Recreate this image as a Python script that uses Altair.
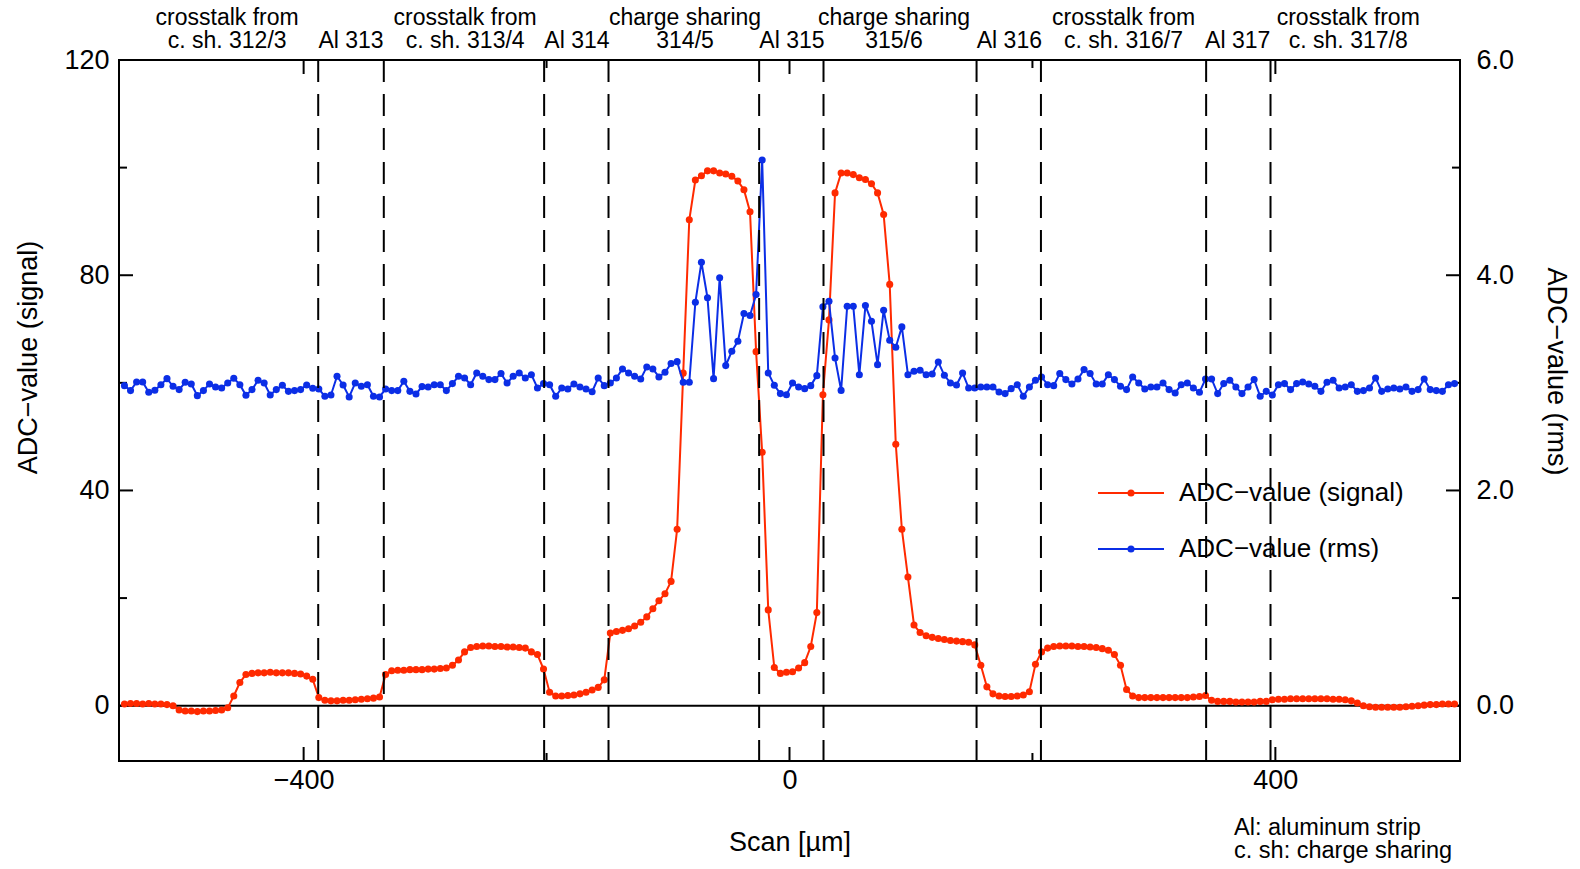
import altair as alt
import pandas as pd

# Scan grid: 220 positions, 5 µm apart
scan_start = -547.5
scan_step = 5.0

# ADC signal (left axis)
signal = [
    0.3, 0.4, 0.4, 0.3, 0.4, 0.3, 0.3, 0.2, 0.0,
    -0.8, -1.0, -1.0, -1.1, -1.0, -1.0, -0.9, -0.8,
    -0.4, 1.8, 4.3, 5.8, 6.0,
    6.1, 6.1, 6.2, 6.1, 6.1, 6.1, 6.0, 5.9,
    5.5, 4.9,
    1.5, 1.0, 0.9, 0.9, 1.0, 1.0, 1.1, 1.2, 1.3, 1.4, 1.6, 5.8,
    6.5, 6.6, 6.6, 6.7, 6.7, 6.7, 6.8, 6.8, 6.9, 7.0,
    7.5, 8.5, 10.0, 10.8, 11.0,
    11.1, 11.1, 11.0, 11.0, 10.9, 10.9, 10.8, 10.7,
    10.0, 9.5, 6.8, 2.5,
    1.8, 1.8, 1.9, 2.0, 2.2, 2.5, 2.9, 3.4, 4.8,
    13.5, 13.8, 14.0, 14.3, 14.8, 15.5, 16.5, 18.0, 19.5, 20.8, 23.1,
    32.8, 61.8, 90.3, 97.7, 98.5, 99.4, 99.4, 99.0, 98.8, 98.4, 97.5, 95.9,
    91.8, 65.8, 47.1, 17.8, 7.1, 6.0, 6.2,
    6.3, 7.0, 8.0, 11.0, 17.3,
    57.8, 71.7, 95.3, 99.0, 99.0, 98.7, 98.1, 97.8, 97.0, 95.3, 91.3, 78.3,
    48.6, 32.8, 23.9, 15.0, 13.6,
    13.0, 12.7, 12.5, 12.3, 12.1, 12.0, 11.9, 11.8, 11.3,
    7.5, 3.5, 2.2, 1.8, 1.7, 1.7, 1.8, 2.0, 2.6, 7.7, 10.0,
    10.7, 11.0, 11.1, 11.1, 11.1, 11.0, 11.0, 10.9, 10.8, 10.6, 10.3,
    9.5, 7.5, 3.0, 1.8,
    1.5, 1.5, 1.5, 1.5, 1.5, 1.5, 1.5, 1.5, 1.5, 1.6, 1.7, 1.9,
    1.0, 0.8, 0.8, 0.8, 0.7, 0.7, 0.7, 0.7, 0.8, 0.8,
    1.1, 1.2, 1.2, 1.3, 1.3, 1.3, 1.3, 1.3, 1.3, 1.3, 1.2, 1.2, 1.1, 0.9,
    0.5, 0.0, -0.2, -0.3, -0.3, -0.3, -0.3, -0.3,
    -0.2, -0.1, 0.0, 0.1, 0.2, 0.2, 0.3, 0.3, 0.3,
]

# ADC noise (right axis)
rms = [
    2.974, 2.928, 3.008, 3.008, 2.912, 2.931, 2.983, 3.039, 2.968, 2.937,
    3.005, 2.990, 2.881, 2.928, 2.990, 2.962, 2.952, 2.999, 3.042, 2.983,
    2.884, 2.937, 3.024, 2.999, 2.887, 2.937, 2.977, 2.921, 2.928, 2.937,
    2.980, 2.949, 2.943, 2.875, 2.887, 3.061, 2.980, 2.869, 2.999, 2.968,
    2.983, 2.875, 2.869, 2.943, 2.928, 2.928, 3.014, 2.921, 2.897, 2.965,
    2.962, 2.983, 2.983, 2.928, 2.993,
    3.061, 3.045, 2.983, 3.092, 3.061, 3.030, 3.030, 3.086, 2.999, 3.061,
    3.092, 3.045, 3.076, 2.952, 2.993, 2.983, 2.875, 2.952, 2.943, 2.990,
    2.962, 2.943, 2.918, 3.045, 2.974, 2.999, 3.045, 3.129, 3.092, 3.061,
    3.036, 3.148, 3.129, 3.055, 3.098, 3.179, 3.197, 3.005, 3.005,
    3.749, 4.121, 3.790, 3.039, 3.976, 3.160, 3.293, 3.386, 3.644, 3.625,
    3.820, 5.070, 3.092, 2.977, 2.900, 2.890,
    2.999, 2.962, 2.946, 2.974, 3.067, 3.706, 3.758, 3.231, 2.930, 3.712,
    3.712, 3.076, 3.718, 3.572, 3.169, 3.675, 3.395, 3.330, 3.520, 3.076,
    3.107, 3.117, 3.076, 3.083, 3.194, 3.070, 2.999, 2.980, 3.092, 2.952,
    2.952, 2.962, 2.962, 2.962, 2.915, 2.900, 2.946, 2.983, 2.875, 2.962,
    3.024, 3.055, 2.983, 2.974, 3.086, 3.030, 2.990, 3.036, 3.123, 3.086,
    2.990, 2.990, 3.076, 3.030, 2.968,
    2.937, 3.055, 2.999, 2.943, 2.962, 2.962, 2.999, 2.937, 2.906, 2.983,
    2.999, 2.952, 2.912, 3.036, 3.036, 2.900, 2.993, 3.024, 2.962, 2.900,
    2.962, 3.030, 2.875, 2.921, 2.887, 2.983, 2.993, 2.937, 2.993, 3.008,
    2.990, 2.968, 2.921, 3.005, 3.024, 2.952, 2.962, 2.983, 2.921, 2.928,
    2.952, 3.045, 2.921, 2.943, 2.952, 2.943, 2.962, 2.921, 2.937, 3.036,
    2.937, 2.928, 2.921, 2.983, 2.993,
]

scan = [scan_start + scan_step * i for i in range(len(signal))]

# Strip structure along the scan
boundaries = [-388, -334, -202, -149, -25, 28, 154, 207, 343, 396]
region_centers = [-463, -361, -267, -175, -86, 2, 86, 181, 275, 369, 460]
region_line1 = ["crosstalk from", "", "crosstalk from", "", "charge sharing", "",
                "charge sharing", "", "crosstalk from", "", "crosstalk from"]
region_line2 = ["c. sh. 312/3", "Al 313", "c. sh. 313/4", "Al 314", "314/5", "Al 315",
                "315/6", "Al 316", "c. sh. 316/7", "Al 317", "c. sh. 317/8"]

x_major = [-400, 0, 400]
x_minor = [-200, 200]
y_major = [0, 40, 80, 120]
y_minor = [20, 60, 100]

RED = "#ff2a00"
BLUE = "#0b2ee6"
FONT = "Liberation Sans"
W, H = 1341, 701
MAJOR, MINOR = 14, 8
DOT = 50

df = pd.DataFrame({"scan": scan, "signal": signal, "rms": rms})

xs = alt.Scale(domain=[-552, 552], nice=False, zero=False)
ys = alt.Scale(domain=[-10.28, 120], nice=False, zero=False)
ys_rms = alt.Scale(domain=[-0.514, 6.0], nice=False, zero=False)

x_axis = alt.Axis(values=x_major, format="d", title="Scan [µm]", labelPadding=6,
                  titlePadding=36, ticks=False, domain=False, grid=False)


def xenc(field):
    return alt.X(field, scale=xs, axis=x_axis)


signal_layer = alt.Chart(df).mark_line(
    color=RED, strokeWidth=2,
    point=alt.OverlayMarkDef(color=RED, size=DOT, filled=True, opacity=1),
).encode(
    x=xenc("scan:Q"),
    y=alt.Y("signal:Q", scale=ys,
            axis=alt.Axis(values=y_major, format="d", title="ADC\u2212value (signal)",
                          labelPadding=10, titlePadding=21, titleY=297,
                          ticks=False, domain=False, grid=False)),
)

rms_layer = alt.Chart(df).mark_line(
    color=BLUE, strokeWidth=2,
    point=alt.OverlayMarkDef(color=BLUE, size=DOT, filled=True, opacity=1),
).encode(
    x=xenc("scan:Q"),
    y=alt.Y("rms:Q", scale=ys_rms,
            axis=alt.Axis(orient="right", values=[0, 2, 4, 6], format=".1f",
                          title="ADC\u2212value (rms)", labelPadding=16, titlePadding=28,
                          titleY=311, ticks=False, domain=False, grid=False)),
)

zero_line = alt.Chart(pd.DataFrame({"v": [0]})).mark_rule(color="black", strokeWidth=2).encode(
    y=alt.Y("v:Q", scale=ys, axis=None), x=alt.value(0), x2=alt.value(W))

dividers = alt.Chart(pd.DataFrame({"b": boundaries})).mark_rule(
    color="black", strokeWidth=2, strokeDash=[22, 12]).encode(
    x=xenc("b:Q"), y=alt.value(0), y2=alt.value(H))

regions = pd.DataFrame({"c": region_centers, "l1": region_line1, "l2": region_line2})
top_text1 = alt.Chart(regions).mark_text(font=FONT, fontSize=23, baseline="middle").encode(
    x=xenc("c:Q"), y=alt.value(-42), text="l1:N")
top_text2 = alt.Chart(regions).mark_text(font=FONT, fontSize=23, baseline="middle").encode(
    x=xenc("c:Q"), y=alt.value(-19), text="l2:N")


def xticks(vals, length):
    d = pd.DataFrame({"t": vals})
    bottom = alt.Chart(d).mark_rule(color="black", strokeWidth=2).encode(
        x=xenc("t:Q"), y=alt.value(H), y2=alt.value(H - length))
    top = alt.Chart(d).mark_rule(color="black", strokeWidth=2).encode(
        x=xenc("t:Q"), y=alt.value(0), y2=alt.value(length))
    return [bottom, top]


def yticks(vals, length):
    d = pd.DataFrame({"t": vals})
    left = alt.Chart(d).mark_rule(color="black", strokeWidth=2).encode(
        y=alt.Y("t:Q", scale=ys, axis=None), x=alt.value(0), x2=alt.value(length))
    right = alt.Chart(d).mark_rule(color="black", strokeWidth=2).encode(
        y=alt.Y("t:Q", scale=ys, axis=None), x=alt.value(W), x2=alt.value(W - length))
    return [left, right]


tick_layers = xticks(x_major, MAJOR) + xticks(x_minor, MINOR) + yticks(y_major, MAJOR) + yticks(y_minor, MINOR)

# Legend drawn in the lower right of the plot area
legend_layers = []
for label, color, ypos in [("ADC\u2212value (signal)", RED, 433), ("ADC\u2212value (rms)", BLUE, 489)]:
    d = pd.DataFrame({"label": [label]})
    legend_layers.append(alt.Chart(d).mark_rule(color=color, strokeWidth=2).encode(
        x=alt.value(979), x2=alt.value(1045), y=alt.value(ypos)))
    legend_layers.append(alt.Chart(d).mark_point(color=color, filled=True, opacity=1, size=DOT).encode(
        x=alt.value(1012), y=alt.value(ypos)))
    legend_layers.append(alt.Chart(d).mark_text(font=FONT, fontSize=26, align="left", baseline="middle").encode(
        x=alt.value(1060), y=alt.value(ypos), text="label:N"))

note_layers = []
for txt, ypos in [("Al: aluminum strip", 768), ("c. sh: charge sharing", 791)]:
    note_layers.append(alt.Chart(pd.DataFrame({"t": [txt]})).mark_text(
        font=FONT, fontSize=23.5, align="left", baseline="middle").encode(
        x=alt.value(1115), y=alt.value(ypos), text="t:N"))

chart = alt.layer(
    zero_line, *tick_layers, signal_layer, rms_layer, dividers,
    top_text1, top_text2, *legend_layers, *note_layers,
).resolve_scale(y="independent").properties(
    width=W, height=H,
    padding={"left": 119, "top": 60, "right": 120, "bottom": 108},
    autosize=alt.AutoSizeParams(type="none"),
    background="white",
).configure_view(stroke="black", strokeWidth=2).configure_axis(
    labelFont=FONT, titleFont=FONT, labelFontSize=27, titleFontSize=27,
    titleFontWeight="normal", labelColor="black", titleColor="black",
)

chart.save("out.html", embed_options={"renderer": "svg", "actions": False})
